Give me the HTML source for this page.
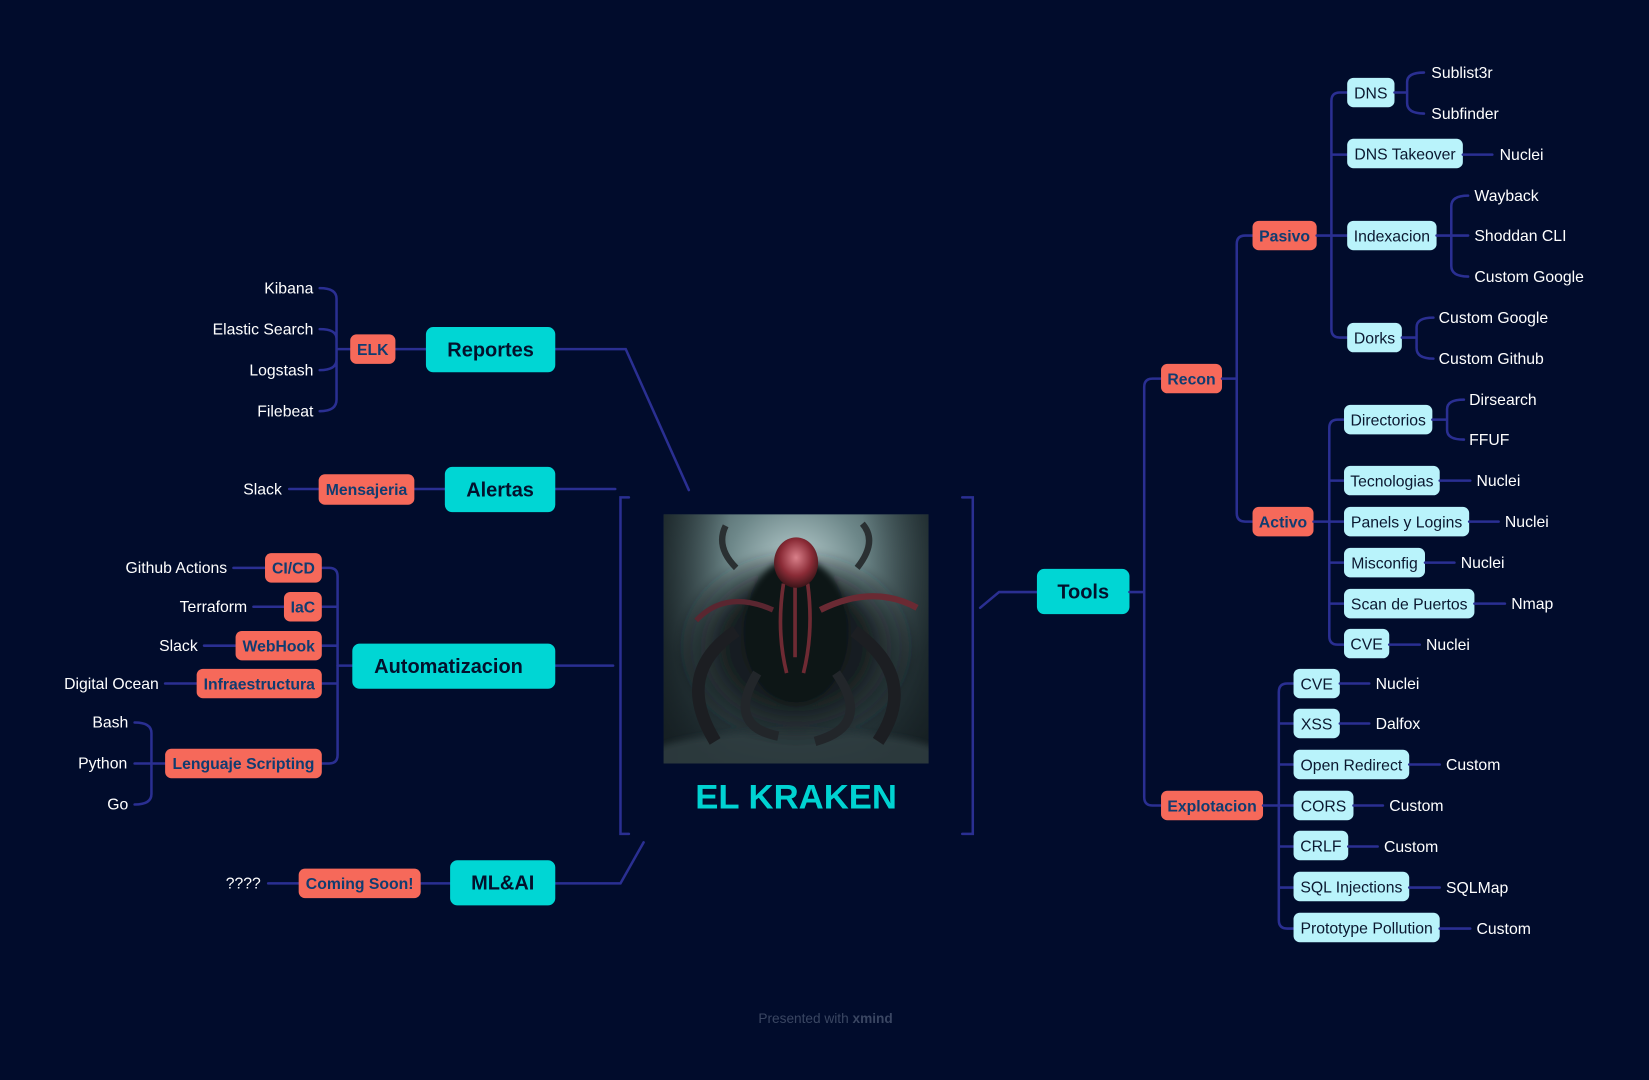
<!DOCTYPE html>
<html><head><meta charset="utf-8">
<style>
html,body{margin:0;padding:0;background:#010c2c;}
svg{display:block}
text{font-family:"Liberation Sans",sans-serif;}
.ln{stroke:#2a2f92;stroke-width:2.4;fill:none;stroke-linecap:round}
.lf{fill:#ffffff;font-size:15px}
.sb{fill:#b9f3fb}
.st{fill:#0b1830;font-size:15px}
.rb{fill:#f6695a}
.rt{fill:#103c70;font-size:15px;font-weight:bold}
.mb{fill:#00d6d4}
.mt{fill:#03112c;font-size:19px;font-weight:bold}
</style></head>
<body>
<svg width="1649" height="1080" viewBox="0 0 1568 1027" preserveAspectRatio="none" xmlns="http://www.w3.org/2000/svg">
<defs>
<radialGradient id="bg1" cx="0.5" cy="0.2" r="0.85">
<stop offset="0" stop-color="#b9cfd0"/><stop offset="0.3" stop-color="#6d8789"/><stop offset="0.7" stop-color="#2c3d41"/><stop offset="1" stop-color="#1a2529"/>
</radialGradient>
<radialGradient id="body" cx="0.5" cy="0.5" r="0.5">
<stop offset="0" stop-color="#0d0f12"/><stop offset="0.6" stop-color="#1a2124"/><stop offset="1" stop-color="#1c2326" stop-opacity="0"/>
</radialGradient>
<radialGradient id="head" cx="0.5" cy="0.4" r="0.6">
<stop offset="0" stop-color="#d9808a"/><stop offset="0.6" stop-color="#8a2b36"/><stop offset="1" stop-color="#3a1418"/>
</radialGradient>
<linearGradient id="vig" x1="0" y1="0" x2="1" y2="0">
<stop offset="0" stop-color="#141d20" stop-opacity="0.7"/><stop offset="0.25" stop-color="#141d20" stop-opacity="0"/><stop offset="0.75" stop-color="#141d20" stop-opacity="0"/><stop offset="1" stop-color="#141d20" stop-opacity="0.6"/>
</linearGradient>
<filter id="bl"><feGaussianBlur stdDeviation="3"/></filter>
</defs>
<rect width="1568" height="1027" fill="#010c2c"/>

<!-- LEFT SIDE -->
<path class="ln" d="M528 332 H595 L655 466"/>
<path class="ln" d="M376 332 H405"/>
<path class="ln" d="M304 274 Q320 274 320 284 V380 Q320 391 304 391 M304 313 Q320 313 320 322 M304 352 Q320 352 320 342 M320 332 H333"/>
<text class="lf" x="298" y="279" text-anchor="end">Kibana</text>
<text class="lf" x="298" y="318" text-anchor="end">Elastic Search</text>
<text class="lf" x="298" y="357" text-anchor="end">Logstash</text>
<text class="lf" x="298" y="396" text-anchor="end">Filebeat</text>
<rect class="rb" x="333" y="318" width="43" height="28" rx="6"/><text class="rt" x="354.5" y="337.5" text-anchor="middle">ELK</text>
<rect class="mb" x="405" y="311" width="123" height="43" rx="7"/><text class="mt" x="466.5" y="339" text-anchor="middle">Reportes</text>

<path class="ln" d="M528 465 H585 M394 465 H423 M275 465 H303"/>
<text class="lf" x="268" y="470" text-anchor="end">Slack</text>
<rect class="rb" x="303" y="451" width="91" height="29" rx="6"/><text class="rt" x="348.5" y="470.5" text-anchor="middle">Mensajeria</text>
<rect class="mb" x="423" y="444" width="105" height="43" rx="7"/><text class="mt" x="475.5" y="472" text-anchor="middle">Alertas</text>

<path class="ln" d="M528 633 H583 M321 633 H335"/>
<path class="ln" d="M306 540 H313 Q321 540 321 548 V718 Q321 726 313 726 H306 M306 577 H321 M306 614 H321 M306 650 H321"/>
<path class="ln" d="M222 540 H252 M241 577 H270 M194 614 H224 M157 650 H187 M144 726 H157"/>
<path class="ln" d="M128 687 Q144 687 144 697 V755 Q144 765 128 765 M128 726 H144"/>
<text class="lf" x="216" y="545" text-anchor="end">Github Actions</text>
<text class="lf" x="235" y="582" text-anchor="end">Terraform</text>
<text class="lf" x="188" y="619" text-anchor="end">Slack</text>
<text class="lf" x="151" y="655" text-anchor="end">Digital Ocean</text>
<text class="lf" x="122" y="692" text-anchor="end">Bash</text>
<text class="lf" x="121" y="731" text-anchor="end">Python</text>
<text class="lf" x="122" y="770" text-anchor="end">Go</text>
<rect class="rb" x="252" y="526" width="54" height="28" rx="6"/><text class="rt" x="279" y="545.5" text-anchor="middle">CI/CD</text>
<rect class="rb" x="270" y="563" width="36" height="28" rx="6"/><text class="rt" x="288" y="582.5" text-anchor="middle">IaC</text>
<rect class="rb" x="224" y="600" width="82" height="28" rx="6"/><text class="rt" x="265" y="619.5" text-anchor="middle">WebHook</text>
<rect class="rb" x="187" y="636" width="119" height="28" rx="6"/><text class="rt" x="246.5" y="655.5" text-anchor="middle">Infraestructura</text>
<rect class="rb" x="157" y="712" width="149" height="28" rx="6"/><text class="rt" x="231.5" y="731.5" text-anchor="middle">Lenguaje Scripting</text>
<rect class="mb" x="335" y="612" width="193" height="43" rx="7"/><text class="mt" x="426.5" y="640" text-anchor="middle">Automatizacion</text>

<path class="ln" d="M528 840 H590 L612 801 M400 840 H428 M255 840 H284"/>
<text class="lf" x="248" y="845" text-anchor="end">????</text>
<rect class="rb" x="284" y="826" width="116" height="28" rx="6"/><text class="rt" x="342" y="845.5" text-anchor="middle">Coming Soon!</text>
<rect class="mb" x="428" y="818" width="100" height="43" rx="7"/><text class="mt" x="478" y="846" text-anchor="middle">ML&amp;AI</text>

<!-- CENTER -->
<path class="ln" d="M598 473 H590 V793 H598 M915 473 H925 V793 H915"/>
<svg x="631" y="489" width="252" height="237" viewBox="631 489 252 237">
<rect x="631" y="489" width="252" height="237" fill="url(#bg1)"/>
<rect x="631" y="489" width="252" height="237" fill="url(#vig)"/>
<g filter="url(#bl)">
<ellipse cx="757" cy="720" rx="140" ry="25" fill="#2e3d41" opacity="0.8"/>
<ellipse cx="757" cy="615" rx="115" ry="95" fill="url(#body)"/>
<ellipse cx="757" cy="600" rx="50" ry="70" fill="#101315"/>
</g>
<path d="M700 600 Q640 640 680 705" stroke="#1c1e22" stroke-width="12" fill="none"/>
<path d="M812 600 Q875 645 835 705" stroke="#1c1e22" stroke-width="12" fill="none"/>
<path d="M720 640 Q690 690 740 700 M795 640 Q830 690 775 705" stroke="#22262a" stroke-width="9" fill="none"/>
<path d="M780 580 Q830 555 872 578" stroke="#6a2a33" stroke-width="6" fill="none"/>
<path d="M735 580 Q690 560 662 590" stroke="#5a2630" stroke-width="5" fill="none"/>
<path d="M700 540 Q680 520 690 500 M815 540 Q835 515 820 498" stroke="#2a3032" stroke-width="6" fill="none"/>
<path d="M745 555 Q738 600 748 640 M768 555 Q774 600 764 640 M756 555 V625" stroke="#6e2a33" stroke-width="3.5" fill="none"/>
<ellipse cx="757" cy="535" rx="21" ry="24" fill="url(#head)"/>
</svg>
<text x="757" y="769" text-anchor="middle" style="font-size:33px;font-weight:bold;fill:#00d3d2">EL KRAKEN</text>

<!-- RIGHT SIDE -->
<path class="ln" d="M932 578 L950 563 H986"/>
<rect class="mb" x="986" y="541" width="88" height="43" rx="7"/><text class="mt" x="1030" y="569" text-anchor="middle">Tools</text>
<path class="ln" d="M1074 563 H1088 M1104 360 H1096 Q1088 360 1088 368 V758 Q1088 766 1096 766 H1104"/>
<rect class="rb" x="1104" y="346" width="58" height="28" rx="6"/><text class="rt" x="1133" y="365.5" text-anchor="middle">Recon</text>
<rect class="rb" x="1104" y="752" width="97" height="28" rx="6"/><text class="rt" x="1152.5" y="771.5" text-anchor="middle">Explotacion</text>

<path class="ln" d="M1162 360 H1176 M1191 224 H1184 Q1176 224 1176 232 V488 Q1176 496 1184 496 H1191"/>
<rect class="rb" x="1191" y="210" width="61" height="28" rx="6"/><text class="rt" x="1221.5" y="229.5" text-anchor="middle">Pasivo</text>
<rect class="rb" x="1191" y="482" width="58" height="28" rx="6"/><text class="rt" x="1220" y="501.5" text-anchor="middle">Activo</text>

<!-- Pasivo children -->
<path class="ln" d="M1252 224 H1281 M1281 88 H1274 Q1266 88 1266 96 V313 Q1266 321 1274 321 H1281 M1266 147 H1281"/>
<rect class="sb" x="1281" y="74" width="45" height="28" rx="6"/><text class="st" x="1303.5" y="93.5" text-anchor="middle">DNS</text>
<rect class="sb" x="1281" y="132" width="110" height="28" rx="6"/><text class="st" x="1336" y="151.5" text-anchor="middle">DNS Takeover</text>
<rect class="sb" x="1281" y="210" width="85" height="28" rx="6"/><text class="st" x="1323.5" y="229.5" text-anchor="middle">Indexacion</text>
<rect class="sb" x="1281" y="307" width="52" height="28" rx="6"/><text class="st" x="1307" y="326.5" text-anchor="middle">Dorks</text>
<path class="ln" d="M1326 88 H1338 M1354 69 Q1338 69 1338 78 V98 Q1338 108 1354 108"/>
<text class="lf" x="1361" y="74">Sublist3r</text><text class="lf" x="1361" y="113">Subfinder</text>
<path class="ln" d="M1391 147 H1419"/><text class="lf" x="1426" y="152">Nuclei</text>
<path class="ln" d="M1366 224 H1396 M1396 186 Q1380 186 1380 196 V253 Q1380 263 1396 263"/>
<text class="lf" x="1402" y="191">Wayback</text><text class="lf" x="1402" y="229">Shoddan CLI</text><text class="lf" x="1402" y="268">Custom Google</text>
<path class="ln" d="M1333 321 H1347 M1363 302 Q1347 302 1347 311 V331 Q1347 341 1363 341"/>
<text class="lf" x="1368" y="307">Custom Google</text><text class="lf" x="1368" y="346">Custom Github</text>

<!-- Activo children -->
<path class="ln" d="M1249 496 H1278 M1278 399 H1272 Q1264 399 1264 407 V605 Q1264 613 1272 613 H1278 M1264 457 H1278 M1264 535 H1278 M1264 574 H1278"/>
<rect class="sb" x="1278" y="385" width="84" height="28" rx="6"/><text class="st" x="1320" y="404.5" text-anchor="middle">Directorios</text>
<path class="ln" d="M1362 399 H1376 M1392 380 Q1376 380 1376 389 V409 Q1376 418 1392 418"/>
<text class="lf" x="1397" y="385">Dirsearch</text><text class="lf" x="1397" y="423">FFUF</text>
<rect class="sb" x="1278" y="443" width="91" height="28" rx="6"/><text class="st" x="1323.5" y="462.5" text-anchor="middle">Tecnologias</text>
<path class="ln" d="M1369 457 H1398"/><text class="lf" x="1404" y="462">Nuclei</text>
<rect class="sb" x="1278" y="482" width="119" height="28" rx="6"/><text class="st" x="1337.5" y="501.5" text-anchor="middle">Panels y Logins</text>
<path class="ln" d="M1397 496 H1425"/><text class="lf" x="1431" y="501">Nuclei</text>
<rect class="sb" x="1278" y="521" width="77" height="28" rx="6"/><text class="st" x="1316.5" y="540.5" text-anchor="middle">Misconfig</text>
<path class="ln" d="M1355 535 H1383"/><text class="lf" x="1389" y="540">Nuclei</text>
<rect class="sb" x="1278" y="560" width="124" height="28" rx="6"/><text class="st" x="1340" y="579.5" text-anchor="middle">Scan de Puertos</text>
<path class="ln" d="M1402 574 H1431"/><text class="lf" x="1437" y="579">Nmap</text>
<rect class="sb" x="1278" y="598" width="43" height="28" rx="6"/><text class="st" x="1299.5" y="617.5" text-anchor="middle">CVE</text>
<path class="ln" d="M1321 613 H1350"/><text class="lf" x="1356" y="618">Nuclei</text>

<!-- Explotacion children -->
<path class="ln" d="M1201 766 H1230 M1230 650 H1224 Q1216 650 1216 658 V875 Q1216 883 1224 883 H1230 M1216 688 H1230 M1216 727 H1230 M1216 805 H1230 M1216 844 H1230"/>
<rect class="sb" x="1230" y="636" width="44" height="28" rx="6"/><text class="st" x="1252" y="655.5" text-anchor="middle">CVE</text>
<path class="ln" d="M1274 650 H1302"/><text class="lf" x="1308" y="655">Nuclei</text>
<rect class="sb" x="1230" y="674" width="44" height="28" rx="6"/><text class="st" x="1252" y="693.5" text-anchor="middle">XSS</text>
<path class="ln" d="M1274 688 H1302"/><text class="lf" x="1308" y="693">Dalfox</text>
<rect class="sb" x="1230" y="713" width="110" height="28" rx="6"/><text class="st" x="1285" y="732.5" text-anchor="middle">Open Redirect</text>
<path class="ln" d="M1340 727 H1369"/><text class="lf" x="1375" y="732">Custom</text>
<rect class="sb" x="1230" y="752" width="57" height="28" rx="6"/><text class="st" x="1258.5" y="771.5" text-anchor="middle">CORS</text>
<path class="ln" d="M1287 766 H1315"/><text class="lf" x="1321" y="771">Custom</text>
<rect class="sb" x="1230" y="790" width="52" height="28" rx="6"/><text class="st" x="1256" y="809.5" text-anchor="middle">CRLF</text>
<path class="ln" d="M1282 805 H1310"/><text class="lf" x="1316" y="810">Custom</text>
<rect class="sb" x="1230" y="829" width="110" height="28" rx="6"/><text class="st" x="1285" y="848.5" text-anchor="middle">SQL Injections</text>
<path class="ln" d="M1340 844 H1369"/><text class="lf" x="1375" y="849">SQLMap</text>
<rect class="sb" x="1230" y="868" width="139" height="28" rx="6"/><text class="st" x="1299.5" y="887.5" text-anchor="middle">Prototype Pollution</text>
<path class="ln" d="M1369 883 H1398"/><text class="lf" x="1404" y="888">Custom</text>

<text x="785" y="973" text-anchor="middle" style="font-size:13px;fill:#3a4662">Presented with <tspan font-weight="bold">xmind</tspan></text>
</svg>
</body></html>
